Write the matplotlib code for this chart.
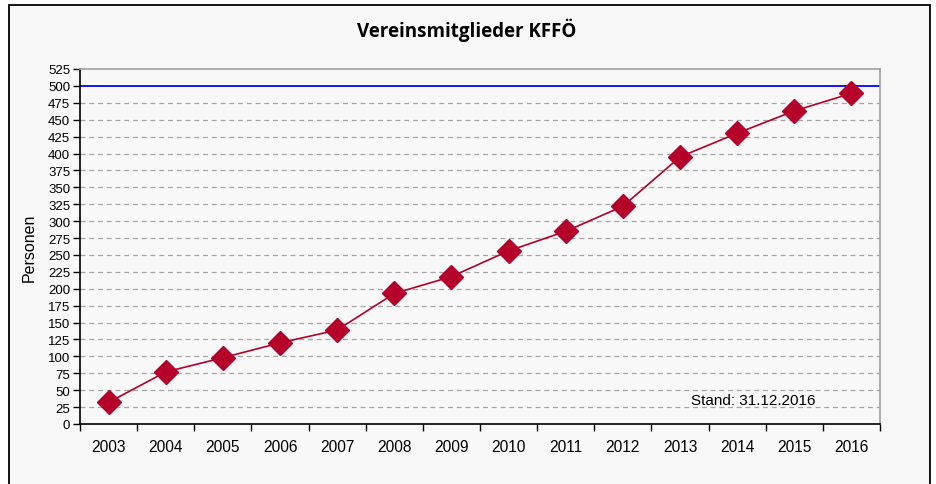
import matplotlib
matplotlib.use("Agg")
import matplotlib.pyplot as plt
from matplotlib.patches import Rectangle
import numpy as np

years = ["2003", "2004", "2005", "2006", "2007", "2008", "2009",
         "2010", "2011", "2012", "2013", "2014", "2015", "2016"]
members = [32, 77, 98, 120, 139, 193, 218, 256, 285, 322, 395, 430, 463, 489]
target = 500
y_ticks = list(range(0, 526, 25))

W, H = 936, 485
fig = plt.figure(figsize=(W / 100, H / 100), dpi=100)
fig.patch.set_facecolor("white")
bg = "#f8f8f8"

# outer frame
frame = Rectangle((9 / W, -0.01), (930 - 9) / W, 1 - 6 / H + 0.01,
                  transform=fig.transFigure, facecolor=bg,
                  edgecolor="black", linewidth=1.3, zorder=-10)
fig.patches.append(frame)

ax = fig.add_axes([80 / W, 1 - 425 / H, 800 / W, 355 / H])
ax.set_zorder(5)
ax.set_facecolor(bg)

x = np.arange(len(years))
ax.set_xlim(-0.5, len(years) - 0.5)
ax.set_ylim(0, 525)

for v in y_ticks:
    if v in (0, target, 525):
        continue
    ax.axhline(v, color="#a6a6a6", linewidth=0.9, linestyle=(0, (4, 3)), zorder=1)
ax.axhline(target, color="#0000ff", linewidth=1.3, zorder=2)

ax.plot(x, members, color="#b5002a", linewidth=1.2, marker="D",
        markersize=12.5, markerfacecolor="#b5002a", markeredgecolor="#b5002a",
        zorder=3)

ax.set_yticks(y_ticks)
ax.set_yticklabels([str(v) for v in y_ticks], fontsize=9.5, family="Liberation Sans")
ax.set_xticks(x)
ax.set_xticklabels(years, fontsize=11.2, family="Liberation Sans")
ax.set_xticks(np.arange(-0.5, len(years), 1.0), minor=True)
ax.tick_params(axis="x", which="major", length=0, pad=11)
ax.tick_params(axis="x", which="minor", length=5, width=1, color="black")
ax.tick_params(axis="y", length=5, width=1, pad=2)

for s in ("left", "bottom"):
    ax.spines[s].set_color("black")
    ax.spines[s].set_linewidth(1.2)
for s in ("top", "right"):
    ax.spines[s].set_color("#a0a0a0")
    ax.spines[s].set_linewidth(1.2)

ax.set_ylabel("Personen", fontsize=11.5, family="Liberation Sans", labelpad=8)

ax.text(11.28, 35, "Stand: 31.12.2016", fontsize=11, family="Liberation Sans",
        ha="center", va="center")

fig.text(467 / W, 1 - 30 / H, "Vereinsmitglieder KFFÖ", fontsize=13.5,
         family="Open Sans", fontweight="bold", ha="center", va="center")

fig.savefig("out.png", dpi=100, facecolor=fig.get_facecolor())
